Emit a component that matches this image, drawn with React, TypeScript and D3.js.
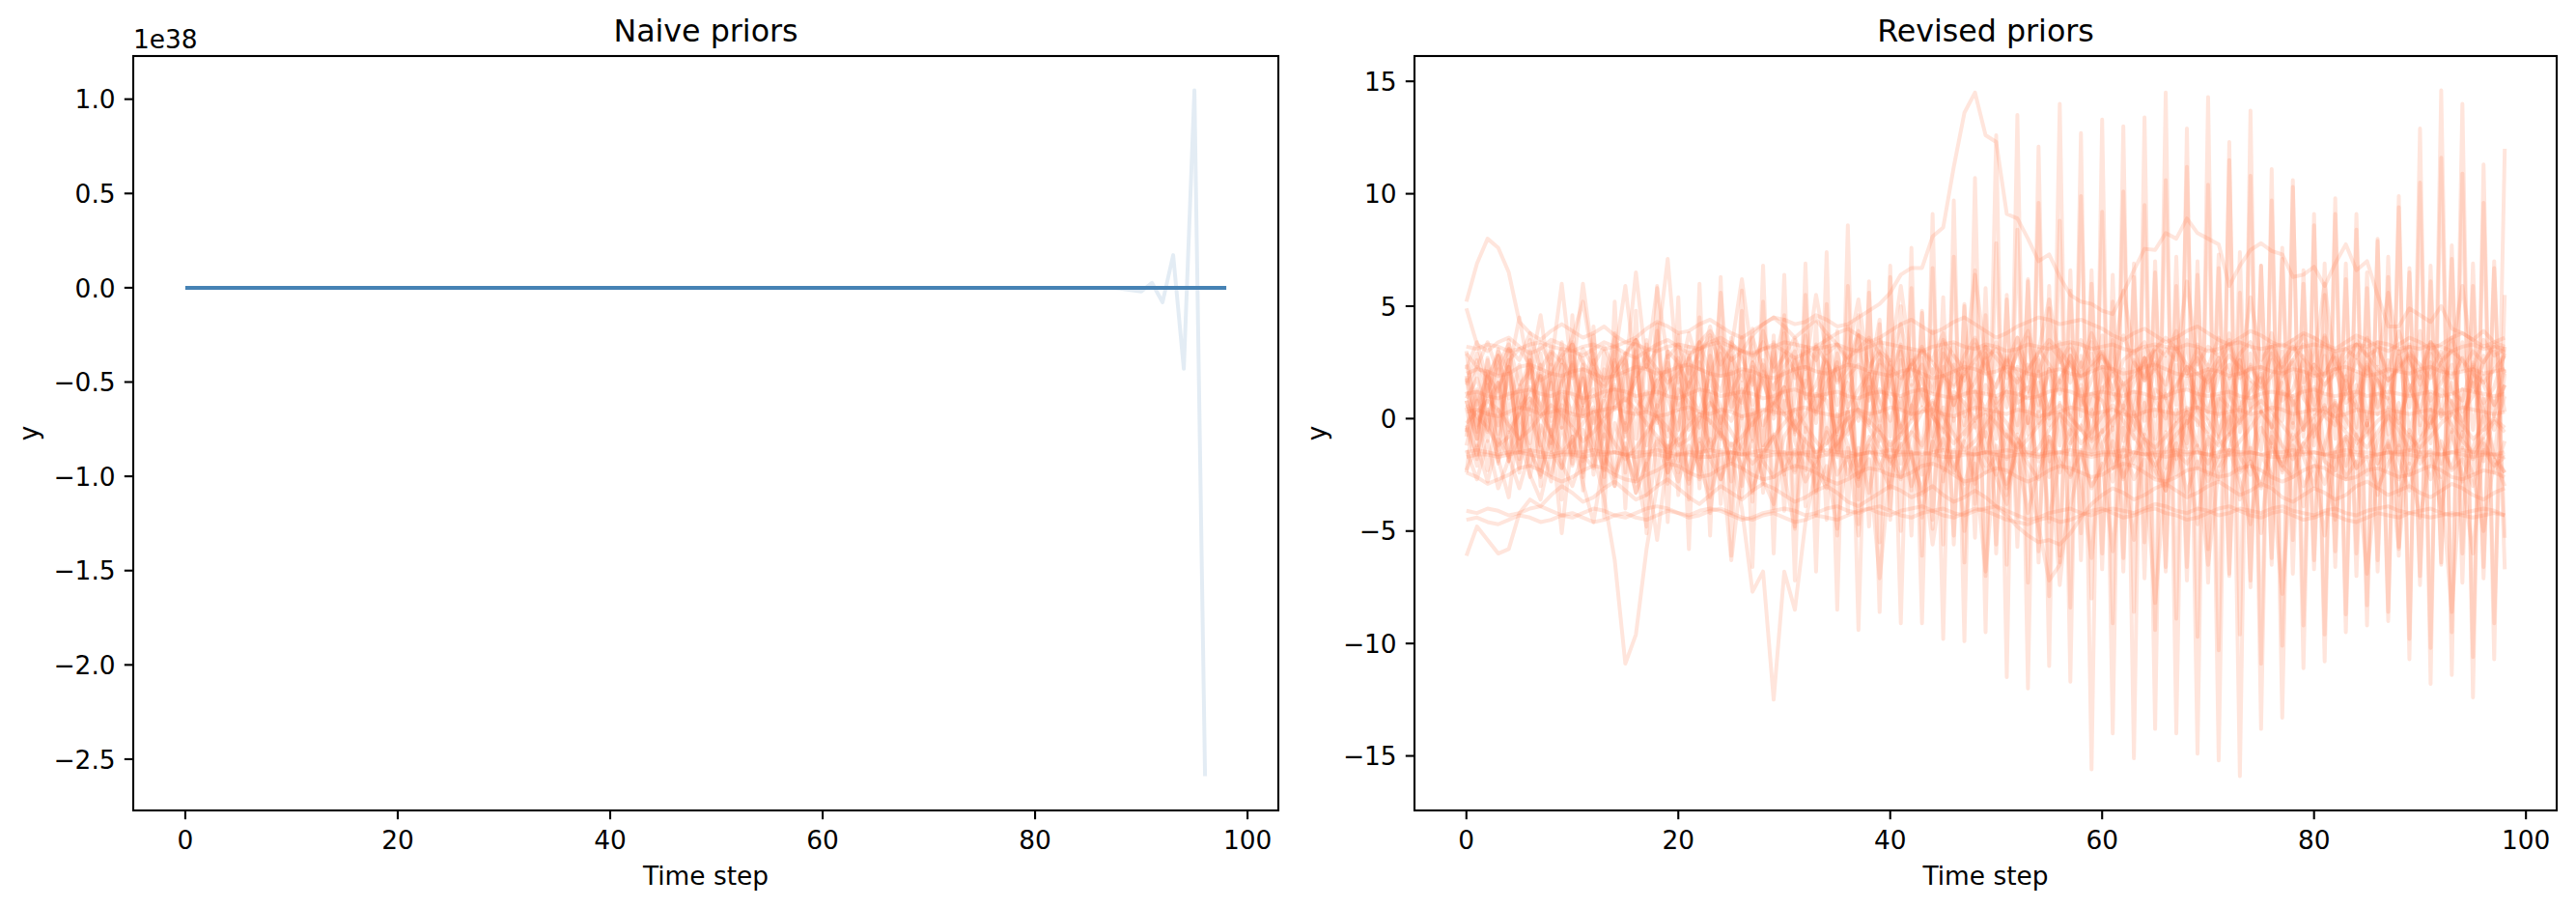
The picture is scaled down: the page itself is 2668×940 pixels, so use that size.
import React from 'react';
import * as d3 from 'd3';

// ---------------- DATA ----------------
const timeSteps = d3.range(99);

// Naive priors (y values; the axis shows them with a 1e38 offset)
const naiveOffset = 1e38;
const naiveFlat = [
  0,0,0,0,0,0,0,0,0,0,
  0,0,0,0,0,0,0,0,0,0,
  0,0,0,0,0,0,0,0,0,0,
  0,0,0,0,0,0,0,0,0,0,
  0,0,0,0,0,0,0,0,0,0,
  0,0,0,0,0,0,0,0,0,0,
  0,0,0,0,0,0,0,0,0,0,
  0,0,0,0,0,0,0,0,0,0,
  0,0,0,0,0,0,0,0,0,0,
  0,0,0,0,0,0,0,0,0,
];
const naiveBurst = [
  0,0,0,0,0,0,0,0,0,0,
  0,0,0,0,0,0,0,0,0,0,
  0,0,0,0,0,0,0,0,0,0,
  0,0,0,0,0,0,0,0,0,0,
  0,0,0,0,0,0,0,0,0,0,
  0,0,0,0,0,0,0,0,0,0,
  0,0,0,0,0,0,0,0,0,0,
  0,0,0,0,0,0,0,0,0,0,
  0,0,0,0,0,0,0,0,-0.004e38,-0.012e38,
  -0.02e38,0.026e38,-0.077e38,0.173e38,-0.43e38,1.047e38,-2.59e38,NaN,NaN,
];

// Revised priors: smooth-ish samples
const l1 = [3.2,3.1,3.3,3.2,3.0,3.1,3.3,3.4,3.2,3.1,3.0,3.2,3.3,3.1,3.2,3.4,3.3,3.1,3.0,3.2,3.3,3.2,3.1,3.3,3.4,3.2,3.0,2.9,3.1,3.2,3.4,3.3,3.2,3.1,3.2,3.3,3.1,3.0,3.2,3.4,3.3,3.2,3.1,3.0,3.2,3.3,3.4,3.2,3.1,3.3,3.2,3.0,3.1,3.3,3.2,3.1,3.3,3.4,3.3,3.1,3.2,3.3,3.1,3.0,3.2,3.3,3.2,3.1,3.3,3.2,3.0,3.1,3.3,3.4,3.2,3.1,3.2,3.3,3.1,3.2,3.3,3.2,3.0,3.1,3.3,3.2,3.4,3.3,3.1,3.2,3.1,3.3,3.2,3.0,3.2,3.3,3.1,3.2,3.1];
const l2 = [-1.5,-1.4,-1.5,-1.6,-1.5,-1.5,-1.4,-1.5,-1.6,-1.5,-1.5,-1.5,-1.4,-1.5,-1.5,-1.6,-1.5,-1.5,-1.4,-1.5,-1.6,-1.5,-1.5,-1.4,-1.5,-1.5,-1.6,-1.5,-1.4,-1.5,-1.5,-1.6,-1.5,-1.5,-1.4,-1.5,-1.5,-1.6,-1.5,-1.5,-1.4,-1.5,-1.5,-1.6,-1.5,-1.4,-1.5,-1.5,-1.6,-1.5,-1.5,-1.4,-1.5,-1.5,-1.6,-1.5,-1.5,-1.4,-1.5,-1.6,-1.5,-1.5,-1.4,-1.5,-1.6,-1.5,-1.5,-1.4,-1.5,-1.5,-1.6,-1.5,-1.4,-1.5,-1.5,-1.6,-1.5,-1.5,-1.4,-1.5,-1.5,-1.6,-1.5,-1.4,-1.5,-1.5,-1.6,-1.5,-1.5,-1.4,-1.5,-1.5,-1.6,-1.5,-1.4,-1.5,-1.5,-1.6,-1.5];
const l3 = [-4.1,-4.2,-4.0,-4.1,-4.3,-4.2,-4.0,-3.9,-4.1,-4.3,-4.4,-4.2,-4.0,-4.1,-4.3,-4.4,-4.2,-4.0,-3.9,-4.0,-4.2,-4.3,-4.1,-4.0,-4.1,-4.3,-4.5,-4.4,-4.2,-4.1,-4.0,-4.1,-4.3,-4.2,-4.0,-3.9,-4.1,-4.2,-4.0,-3.9,-4.1,-4.3,-4.4,-4.2,-4.1,-4.0,-4.2,-4.3,-4.1,-4.0,-3.9,-4.1,-4.3,-4.5,-4.4,-4.2,-4.1,-4.0,-4.2,-4.3,-4.1,-4.0,-4.1,-4.2,-4.0,-3.8,-3.9,-4.1,-4.2,-4.0,-4.1,-4.3,-4.2,-4.0,-4.1,-4.2,-4.0,-3.9,-4.1,-4.2,-4.3,-4.1,-4.0,-4.2,-4.3,-4.1,-4.0,-3.9,-4.1,-4.2,-4.1,-4.0,-4.2,-4.3,-4.2,-4.1,-4.0,-4.1,-4.3];
const l4 = [-4.5,-4.4,-4.6,-4.7,-4.5,-4.3,-4.4,-4.6,-4.5,-4.3,-4.2,-4.4,-4.6,-4.5,-4.3,-4.2,-4.4,-4.5,-4.3,-4.1,-4.2,-4.4,-4.3,-4.1,-4.0,-4.2,-4.4,-4.5,-4.3,-4.2,-4.4,-4.6,-4.5,-4.3,-4.4,-4.5,-4.3,-4.1,-4.0,-4.2,-4.3,-4.1,-4.0,-3.9,-4.1,-4.3,-4.4,-4.2,-4.0,-4.1,-4.3,-4.5,-4.6,-4.7,-4.5,-4.4,-4.6,-4.5,-4.3,-4.1,-4.0,-4.2,-4.4,-4.3,-4.1,-4.0,-4.2,-4.3,-4.5,-4.4,-4.2,-4.0,-3.9,-4.1,-4.3,-4.4,-4.2,-4.1,-4.3,-4.5,-4.4,-4.2,-4.3,-4.5,-4.6,-4.4,-4.2,-4.3,-4.4,-4.2,-4.3,-4.4,-4.3,-4.2,-4.3,-4.4,-4.3,-4.2,-4.3];
const l5 = [2.0,2.2,2.1,1.9,2.0,2.3,2.4,2.2,2.0,1.9,2.1,2.2,2.0,1.8,1.9,2.1,2.3,2.2,2.0,2.1,2.3,2.4,2.2,2.0,1.9,2.0,2.2,2.1,1.9,1.8,2.0,2.2,2.3,2.1,2.0,2.2,2.4,2.3,2.1,2.0,1.9,2.1,2.2,2.0,1.8,1.9,2.1,2.3,2.2,2.0,2.1,2.3,2.2,2.0,1.9,2.1,2.2,2.0,1.9,2.1,2.3,2.2,2.0,2.1,2.3,2.4,2.2,2.0,1.9,2.0,2.2,2.1,1.9,2.0,2.2,2.3,2.1,2.0,2.2,2.1,1.9,2.0,2.2,2.3,2.1,1.9,2.0,2.2,2.1,2.0,2.2,2.3,2.1,2.0,2.1,2.2,2.0,2.1,2.2];
const l6 = [0.3,0.4,0.2,0.1,0.3,0.5,0.4,0.2,0.3,0.4,0.2,0.1,0.3,0.4,0.5,0.3,0.2,0.3,0.1,0.2,0.4,0.5,0.3,0.2,0.4,0.3,0.1,0.2,0.4,0.3,0.2,0.4,0.5,0.3,0.2,0.1,0.3,0.4,0.2,0.3,0.5,0.4,0.2,0.3,0.4,0.2,0.1,0.3,0.5,0.4,0.3,0.2,0.4,0.3,0.1,0.2,0.3,0.5,0.4,0.2,0.3,0.4,0.2,0.1,0.3,0.4,0.3,0.2,0.4,0.5,0.3,0.2,0.3,0.4,0.2,0.3,0.5,0.4,0.2,0.3,0.4,0.3,0.1,0.2,0.4,0.3,0.2,0.4,0.3,0.2,0.3,0.4,0.2,0.3,0.5,0.4,0.3,0.2,0.3];
const l7 = [1.1,1.2,1.0,0.9,1.1,1.2,1.3,1.1,1.0,1.2,1.1,0.9,1.0,1.2,1.3,1.2,1.0,1.1,1.2,1.0,0.9,1.1,1.3,1.2,1.0,1.1,1.2,1.1,0.9,1.0,1.2,1.3,1.1,1.0,1.1,1.2,1.0,0.9,1.1,1.2,1.1,1.0,1.2,1.3,1.1,1.0,0.9,1.1,1.2,1.1,1.0,1.2,1.1,0.9,1.0,1.2,1.3,1.2,1.0,1.1,1.2,1.1,1.0,1.2,1.1,0.9,1.0,1.2,1.3,1.1,1.0,1.1,1.2,1.0,0.9,1.1,1.2,1.1,1.0,1.2,1.3,1.1,1.0,1.1,1.2,1.0,1.1,1.2,1.1,1.0,1.1,1.2,1.0,1.1,1.3,1.2,1.1,1.0,1.1];
const l8 = [-2.4,-2.6,-2.9,-2.7,-2.5,-2.2,-2.1,-2.3,-2.6,-2.8,-2.6,-2.3,-2.1,-2.2,-2.5,-2.7,-2.8,-2.5,-2.3,-2.0,-2.1,-2.4,-2.6,-2.5,-2.2,-2.0,-2.2,-2.5,-2.7,-2.6,-2.3,-2.1,-2.2,-2.4,-2.7,-2.9,-2.7,-2.4,-2.2,-2.3,-2.5,-2.6,-2.4,-2.1,-2.0,-2.2,-2.5,-2.8,-2.7,-2.4,-2.2,-2.3,-2.6,-2.8,-2.6,-2.3,-2.1,-2.2,-2.4,-2.6,-2.5,-2.2,-2.0,-2.1,-2.4,-2.7,-2.8,-2.6,-2.3,-2.2,-2.4,-2.6,-2.5,-2.2,-2.1,-2.3,-2.6,-2.8,-2.6,-2.3,-2.1,-2.2,-2.5,-2.7,-2.6,-2.3,-2.2,-2.4,-2.6,-2.5,-2.3,-2.1,-2.3,-2.6,-2.7,-2.5,-2.3,-2.4,-2.6];
const l9 = [-1.7,-1.6,-1.6,-1.7,-1.6,-1.5,-1.6,-1.7,-1.7,-1.6,-1.6,-1.7,-1.6,-1.6,-1.5,-1.6,-1.7,-1.6,-1.6,-1.7,-1.6,-1.6,-1.7,-1.7,-1.6,-1.5,-1.6,-1.6,-1.7,-1.6,-1.6,-1.5,-1.6,-1.7,-1.6,-1.6,-1.7,-1.6,-1.5,-1.6,-1.7,-1.6,-1.6,-1.5,-1.6,-1.7,-1.7,-1.6,-1.6,-1.5,-1.6,-1.7,-1.6,-1.6,-1.7,-1.6,-1.5,-1.6,-1.6,-1.7,-1.6,-1.6,-1.7,-1.5,-1.6,-1.6,-1.7,-1.6,-1.6,-1.5,-1.6,-1.7,-1.6,-1.6,-1.5,-1.6,-1.7,-1.7,-1.6,-1.6,-1.5,-1.6,-1.7,-1.6,-1.6,-1.7,-1.6,-1.5,-1.6,-1.6,-1.7,-1.6,-1.6,-1.5,-1.6,-1.7,-1.6,-1.6,-1.7];

// Wandering samples
const w1 = [5.2,6.9,8.0,7.6,6.5,4.3,3.8,3.5,3.9,4.2,3.9,3.6,3.8,4.1,3.7,3.4,3.6,4.0,4.3,4.1,3.8,3.9,4.2,4.4,4.1,3.8,3.6,3.9,4.2,4.5,4.4,4.2,4.3,4.6,4.4,4.1,4.2,4.5,4.8,5.1,5.6,6.4,6.7,6.7,8.1,8.5,11.2,13.6,14.5,12.6,12.3,9.1,8.9,8.0,7.0,7.3,6.3,5.5,5.2,5.1,4.8,4.65,5.6,6.6,7.55,7.5,8.25,8.0,8.9,8.25,8.0,7.75,5.9,6.8,7.5,7.8,7.45,7.3,6.3,6.4,6.75,5.9,6.9,7.75,6.6,7.0,5.5,4.1,4.1,4.9,4.6,4.3,5.0,4.0,3.8,3.5,3.9,3.4,3.2];
const w2 = [4.9,3.3,3.0,3.4,3.6,3.2,2.9,3.1,3.5,3.3,3.0,2.8,3.1,3.4,3.2,2.9,2.7,3.0,3.3,3.5,3.2,2.9,3.1,3.4,3.6,3.3,3.0,2.8,3.1,3.3,3.0,2.7,2.9,3.2,3.5,3.8,4.0,3.7,3.4,3.6,3.9,4.2,4.4,4.1,3.8,4.0,4.3,4.5,4.2,3.9,3.6,3.8,4.1,4.3,4.5,4.4,4.2,4.3,4.4,4.2,4.0,3.7,3.5,3.8,4.0,3.7,3.4,3.6,3.9,4.1,3.8,3.5,3.3,3.6,3.9,3.7,3.4,3.2,3.5,3.8,3.6,3.3,3.1,3.4,3.7,3.5,3.2,3.0,3.3,3.6,3.4,3.1,3.3,3.6,3.8,3.5,3.2,3.4,3.6];
const w3 = [-6.1,-4.8,-5.4,-6.0,-5.8,-4.2,-3.6,-3.9,-3.4,-3.0,-3.3,-3.7,-3.5,-3.1,-2.8,-3.2,-3.6,-3.4,-3.0,-2.7,-3.1,-3.5,-3.8,-3.4,-3.0,-3.3,-3.6,-3.2,-2.9,-3.1,-3.4,-3.7,-3.5,-3.2,-3.0,-3.3,-3.7,-3.9,-3.6,-3.3,-3.0,-3.2,-3.5,-3.3,-3.0,-3.4,-3.7,-3.5,-3.2,-3.5,-3.9,-4.3,-4.8,-5.2,-5.5,-5.4,-5.6,-5.1,-4.4,-3.8,-3.4,-3.1,-3.3,-3.6,-3.4,-3.1,-2.9,-3.2,-3.5,-3.3,-3.0,-2.8,-3.1,-3.4,-3.2,-2.9,-3.1,-3.5,-3.7,-3.4,-3.1,-3.3,-3.6,-3.4,-3.0,-2.8,-3.1,-3.4,-3.2,-3.0,-3.3,-3.5,-3.2,-2.9,-3.1,-3.4,-3.6,-3.3,-3.1];

// Oscillating (spiky) samples
const s1 = [1.8,-1.2,2.6,-2.0,3.1,-2.4,3.5,-3.0,2.9,-3.6,4.6,-3.2,4.1,-4.4,5.2,-4.0,4.8,-5.1,5.9,-4.6,5.4,-5.8,6.0,-5.2,6.3,-6.1,5.7,-6.6,6.8,-6.0,6.4,-7.2,6.9,-6.8,7.4,-8.5,8.6,-9.4,6.1,-8.6,6.8,-9.1,7.6,-9.1,9.1,-9.8,9.7,-9.9,10.7,-9.5,12.6,-11.5,13.5,-12.0,12.1,-11.0,14.0,-11.7,12.7,-15.6,13.3,-14.0,13.0,-15.1,13.4,-13.8,14.5,-14.0,12.9,-14.9,14.3,-15.2,12.3,-15.9,13.7,-13.8,11.1,-13.3,10.6,-11.1,9.1,-10.8,9.1,-9.5,8.4,-9.2,7.9,-8.6,9.9,-10.7,12.9,-11.8,14.6,-11.4,14.0,-12.4,11.3,-10.7,12.0];
const s2 = [0.8,-0.9,2.1,-1.4,2.6,-1.8,3.0,-1.2,2.4,-2.2,3.3,-2.6,2.9,-3.0,3.8,-2.4,3.5,-3.4,4.2,-2.9,3.7,-3.6,4.5,-3.1,4.0,-4.2,4.8,-3.7,5.2,-4.0,4.6,-4.8,5.5,-4.3,5.1,-5.2,5.9,-4.7,5.6,-5.5,6.3,-5.0,5.8,-6.1,6.7,-5.6,7.2,-6.4,6.6,-7.0,7.8,-6.5,8.4,-7.3,9.6,-7.9,8.8,-8.4,9.9,-8.0,9.2,-9.1,10.1,-8.6,9.5,-9.4,10.6,-8.9,11.2,-9.7,10.4,-10.3,11.5,-9.6,10.8,-10.9,9.7,-10.1,10.3,-9.2,8.6,-9.6,9.8,-8.7,9.1,-8.3,8.0,-9.0,9.4,-9.8,10.5,-10.2,11.6,-9.5,10.9,-10.6,9.6,-9.1,5.5];
const s3 = [-0.6,1.2,-1.0,1.6,-1.7,1.3,-2.1,1.9,-1.5,2.4,-2.0,2.7,-2.5,2.2,-3.0,2.9,-2.6,3.3,-2.9,3.0,-3.4,2.8,-3.1,3.6,-3.8,3.2,-3.5,4.0,-3.3,3.7,-4.1,3.5,-3.9,4.3,-4.5,3.9,-4.2,4.6,-4.8,4.2,-4.5,5.0,-5.2,4.7,-4.9,5.4,-5.6,5.1,-5.3,5.8,-6.0,5.5,-5.7,6.2,-6.4,5.9,-6.1,6.6,-6.3,6.0,-6.7,6.4,-6.2,6.9,-7.1,6.5,-6.8,7.2,-6.6,7.0,-7.3,6.7,-7.0,7.4,-7.2,6.8,-6.5,7.1,-6.9,6.6,-6.3,6.9,-6.6,6.2,-6.0,6.5,-6.8,6.3,-6.1,6.7,-7.0,6.8,-6.4,7.1,-7.3,6.9,-6.6,7.0,-6.7];
const d1 = [-1.2,0.8,-2.3,0.4,-1.9,1.1,-2.6,-0.3,-1.4,0.6,-2.1,-0.5,-1.6,-3.5,-6.3,-10.9,-9.6,-5.8,-3.0,-1.2,-2.4,0.3,-1.8,-0.9,-2.7,-1.5,-4.0,-7.7,-6.8,-12.5,-6.8,-8.5,-4.6,-2.2,-3.1,-0.8,-2.5,-1.3,-3.3,-0.6,-2.0,0.9,-1.7,-3.2,-1.1,0.5,-2.4,-1.0,-2.9,0.2,-1.5,-3.4,-0.7,-2.6,-4.8,-7.2,-6.5,-3.9,-1.8,0.4,-1.3,-2.8,-0.4,-2.0,0.7,-1.6,-3.0,-1.1,0.3,-2.2,-0.9,-2.7,-1.4,0.5,-1.9,-3.1,-0.8,-2.3,-0.2,-1.7,-3.0,-1.2,0.6,-2.1,-0.7,-2.5,-1.0,0.2,-1.8,-3.2,-1.1,0.4,-2.0,-0.6,-2.8,-1.3,0.1,-1.6,-2.4];

// Core noisy samples
const c1 = [2.4,0.6,1.9,2.8,0.9,1.3,2.6,0.4,1.8,3.1,1.0,0.2,2.2,1.5,3.0,0.8,1.7,2.9,0.5,1.4,2.7,1.1,0.3,2.0,3.2,1.2,0.7,2.5,1.6,0.4,2.3,3.0,0.9,1.5,2.8,0.6,1.9,2.4,0.8,2.9,1.3,0.5,2.6,1.8,0.2,2.1,3.3,1.0,1.6,2.7,0.7,1.4,3.1,1.9,0.3,2.2,1.1,2.8,0.6,1.7,2.9,1.2,0.4,2.5,1.8,3.0,0.9,1.5,2.3,0.5,1.9,2.7,1.0,0.3,2.4,1.6,3.2,0.8,1.3,2.6,0.6,2.0,2.9,1.1,0.5,2.3,1.7,0.9,2.8,1.4,0.4,2.1,3.0,1.2,0.8,2.5,1.5,0.6,2.2];
const c2 = [0.5,-1.8,1.9,-0.7,2.3,-1.5,0.9,-2.2,1.6,-0.4,2.5,-1.9,0.3,-2.6,1.4,-0.8,2.7,-1.2,0.6,-2.4,1.8,-0.5,2.2,-1.7,0.1,-2.8,1.3,-0.9,2.4,-1.4,0.8,-2.3,1.7,-0.2,2.6,-1.6,0.4,-2.7,1.9,-1.0,2.1,-0.6,1.5,-2.5,0.7,-1.3,2.8,-0.3,1.2,-2.1,0.9,-1.8,2.3,-0.7,1.6,-2.6,0.2,-1.1,2.5,-1.5,1.4,-2.2,0.6,-0.9,2.7,-1.7,1.1,-2.5,0.5,-1.2,2.2,-0.8,1.8,-2.3,0.3,-1.4,2.6,-1.9,1.0,-0.5,2.4,-1.6,0.8,-2.7,1.5,-0.3,2.1,-1.3,0.7,-2.0,1.9,-1.1,2.5,-0.6,1.3,-2.4,0.9,-1.7,2.0];
const c3 = [-0.3,-1.6,0.4,-1.9,-0.6,-2.2,0.1,-1.2,-2.5,-0.4,-1.7,0.5,-1.0,-2.3,-0.2,-1.5,-2.8,-0.7,0.3,-1.8,-0.9,-2.4,0.2,-1.3,-0.5,-2.0,-1.1,0.4,-1.9,-2.6,-0.8,-0.1,-1.6,-2.2,-0.4,-1.4,0.3,-2.1,-1.0,-0.3,-1.8,-2.7,-0.6,-1.2,0.2,-1.5,-2.3,-0.9,-0.2,-1.7,-2.5,-0.7,-1.3,0.1,-1.9,-0.8,-2.4,-1.1,-0.3,-1.6,-0.5,-2.2,-1.4,0.3,-1.0,-2.6,-0.6,-1.8,-0.1,-1.3,-2.0,-0.9,0.2,-1.7,-2.5,-0.4,-1.2,-2.1,-0.7,-1.5,0.0,-1.9,-2.3,-0.8,-1.4,-0.2,-2.0,-1.1,-2.7,-0.5,-1.6,0.1,-1.3,-2.2,-0.6,-1.8,-0.9,-2.4,-1.0];
const c4 = [1.6,2.9,1.2,2.4,3.3,1.5,2.1,4.6,1.3,2.6,1.8,3.1,2.3,1.0,2.7,5.9,1.9,2.4,1.1,3.0,2.5,1.4,3.4,2.0,1.2,2.8,1.7,3.6,2.2,1.3,2.9,2.1,1.4,3.2,2.5,1.6,2.3,3.7,1.1,2.6,2.0,3.3,1.5,2.4,1.2,2.9,2.2,1.7,3.5,2.1,1.4,2.7,2.0,1.2,3.1,2.4,1.6,2.8,1.9,3.4,2.3,1.3,2.6,3.0,1.7,2.2,1.5,3.2,2.0,2.7,1.2,2.5,3.3,1.8,2.3,1.4,2.9,2.1,3.5,1.6,2.4,1.9,3.0,1.3,2.6,2.0,3.4,1.7,2.2,2.8,1.5,3.1,2.3,1.8,2.7,1.4,2.5,3.2,2.0];
const c5 = [-2.3,-1.2,-2.8,-0.9,-1.7,-3.1,-1.4,-2.5,-0.8,-2.0,-3.0,-1.6,-2.2,-0.7,-2.6,-1.3,-3.3,-1.9,-1.0,-2.4,-1.5,-2.9,-0.9,-1.8,-2.7,-1.1,-2.1,-3.2,-1.6,-0.8,-2.3,-1.4,-2.8,-1.9,-0.6,-2.5,-1.7,-3.0,-1.2,-2.2,-1.0,-2.6,-1.5,-3.4,-1.8,-0.9,-2.1,-2.9,-1.3,-2.4,-1.6,-3.1,-1.1,-2.0,-2.7,-0.8,-1.9,-2.5,-1.4,-3.0,-2.2,-1.0,-2.6,-1.7,-0.9,-2.3,-3.2,-1.5,-2.0,-1.2,-2.8,-1.6,-0.7,-2.4,-1.9,-3.0,-1.3,-2.1,-2.6,-1.1,-1.8,-2.9,-1.4,-0.8,-2.2,-1.7,-3.1,-2.0,-1.2,-2.5,-1.5,-2.7,-1.0,-2.3,-1.8,-3.0,-1.4,-2.1,-1.7];
const c6 = [1.9,-0.4,1.2,2.8,-0.6,1.5,0.2,2.4,-0.8,1.7,3.4,0.1,1.0,-0.9,2.6,0.5,1.8,-0.3,2.2,0.9,-0.5,2.7,1.3,-0.2,5.6,0.4,1.6,-1.0,2.1,0.7,1.4,-0.6,3.0,0.3,1.1,2.5,-0.7,0.8,2.0,-0.1,1.7,3.2,0.0,1.3,-0.8,2.3,0.6,1.9,-0.4,2.9,0.5,1.2,-0.6,2.4,1.0,-0.3,3.1,0.2,1.5,-0.9,2.2,0.8,1.6,-0.5,2.7,0.1,1.3,3.5,-0.2,1.0,2.1,-0.7,0.9,2.6,0.4,1.8,-0.4,2.3,0.6,1.4,-0.8,2.8,0.3,1.1,2.0,-0.3,1.7,0.5,3.0,-0.6,1.2,2.5,0.0,1.6,-0.5,2.2,0.7,1.4,2.9];
const c7 = [-0.8,2.6,-0.5,3.1,0.2,2.4,-1.1,2.9,0.1,3.4,-0.7,2.2,-1.3,3.0,0.4,2.7,-0.9,3.5,-0.2,2.5,0.6,3.2,-1.0,2.8,-0.4,3.6,0.0,2.3,-1.2,3.1,0.3,2.6,-0.6,3.3,-1.1,2.9,0.5,3.7,-0.3,2.4,-0.8,3.0,0.2,2.7,-1.4,3.4,-0.1,2.5,0.4,3.2,-0.9,2.8,-0.3,3.6,0.6,2.2,-1.2,3.1,0.1,2.9,-0.6,3.5,-1.0,2.6,0.3,3.0,-0.5,2.4,-1.3,3.3,0.0,2.7,-0.7,3.4,0.5,2.3,-1.1,3.0,-0.2,2.8,0.4,3.6,-0.9,2.5,-0.4,3.1,0.2,2.6,-1.2,3.3,-0.3,2.9,0.1,3.5,-0.8,2.4,-0.5,3.0,0.3];
const c8 = [0.6,0.1,-0.4,-1.2,-0.8,0.3,0.9,0.2,-0.7,-1.5,-1.0,-0.2,0.5,-0.3,-1.1,-1.8,-1.3,-0.6,0.1,-0.4,-1.2,-0.9,0.0,0.7,0.2,-0.6,-1.4,-2.0,-1.5,-0.8,-0.2,0.4,-0.3,-1.0,-1.6,-1.1,-0.5,0.2,-0.4,-1.3,-1.9,-1.2,-0.6,0.3,0.8,0.1,-0.7,-1.4,-1.0,-0.3,0.4,-0.2,-0.9,-1.7,-1.3,-0.5,0.2,-0.3,-1.1,-0.6,0.1,0.6,-0.1,-0.8,-1.5,-2.1,-1.4,-0.7,-0.2,0.5,-0.1,-0.9,-1.6,-1.0,-0.4,0.3,-0.3,-1.2,-1.8,-1.1,-0.5,0.2,0.7,0.0,-0.8,-1.3,-0.6,0.1,-0.5,-1.4,-0.9,-0.2,0.4,-0.3,-1.0,-1.5,-0.8,-0.1,-0.6];
const c9 = [2.2,3.4,1.6,3.0,2.1,4.5,1.8,3.3,2.4,6.0,1.9,6.0,2.5,1.7,3.6,2.0,6.5,2.3,3.1,7.1,1.6,3.8,2.2,4.1,1.9,3.4,2.7,1.5,3.9,2.3,4.4,1.8,3.2,2.6,3.7,1.7,2.9,5.3,2.0,3.5,2.4,4.2,1.9,3.1,2.6,3.8,1.5,2.8,3.6,2.2,3.4,1.8,2.9,3.9,2.1,3.3,2.7,1.6,3.5,2.4,3.0,1.9,3.7,2.5,1.7,3.2,2.8,3.9,2.0,3.1,2.3,3.6,1.8,2.9,3.4,2.2,3.8,1.9,2.6,3.3,2.0,3.7,2.4,1.7,3.5,2.8,3.1,2.1,3.9,2.5,1.8,3.4,2.7,3.6,2.2,3.0,2.5,3.3,2.9];
const c10 = [-0.4,-2.1,0.3,-1.8,-3.5,0.2,-1.4,-2.6,-0.5,-5.1,-0.8,-2.4,0.4,-1.6,-3.0,-0.2,-2.2,-4.8,-0.9,-1.5,0.3,-2.7,-1.1,-4.2,-0.6,-1.9,0.1,-3.3,-1.3,-0.7,-2.5,-4.9,-0.4,-1.7,-2.9,0.2,-1.2,-5.2,-0.8,-2.0,-3.1,-0.3,-1.6,-4.4,-1.0,-2.3,0.0,-5.0,-1.4,-0.6,-2.6,-3.8,-0.9,-1.5,0.3,-4.6,-1.8,-0.5,-2.8,-6.2,-1.1,-0.4,-2.3,-5.4,-0.7,-1.9,-3.2,-0.2,-1.5,-4.7,-0.8,-2.1,0.1,-3.6,-1.3,-5.1,-0.6,-2.4,-1.0,-3.9,-0.3,-1.7,-4.5,-0.9,-2.2,-0.1,-3.4,-1.2,-5.8,-0.7,-2.0,-1.4,-4.1,-0.5,-2.6,-6.0,-1.1,-1.8,-3.0];
const c11 = [1.2,-0.3,0.8,1.6,-0.5,0.2,1.4,0.6,-0.7,1.1,0.3,1.8,-0.2,0.9,1.5,-0.6,0.4,1.2,0.0,-0.8,1.3,0.7,-0.4,1.7,0.5,-0.1,1.0,1.9,-0.3,0.6,1.4,-0.5,0.2,1.1,0.8,-0.7,1.6,0.3,-0.2,1.3,0.9,-0.4,0.5,1.8,0.1,-0.6,1.2,0.7,-0.1,1.5,0.4,-0.8,1.0,1.4,-0.2,0.6,1.7,0.0,-0.5,1.1,0.8,-0.3,1.5,0.2,-0.7,1.3,0.9,-0.1,1.8,0.4,-0.6,1.0,0.5,-0.2,1.6,0.3,-0.4,1.2,0.8,-0.5,1.4,0.1,-0.3,1.7,0.6,-0.6,1.1,0.9,-0.2,1.5,0.2,-0.4,1.3,0.7,-0.1,1.6,0.4,-0.5,1.0];
const c12 = [1.5,2.3,1.9,1.2,2.6,3.1,2.4,1.7,2.0,2.8,3.3,2.5,1.8,1.4,2.1,2.9,3.5,2.8,2.2,1.6,2.0,2.7,3.4,3.9,3.2,2.6,3.0,3.7,4.2,4.5,4.1,3.6,4.0,4.4,3.8,3.3,2.7,3.1,3.6,2.9,2.3,1.8,2.4,3.0,2.5,1.9,1.4,2.0,2.6,3.2,2.7,2.1,1.6,2.2,2.9,3.5,3.0,2.4,1.8,2.3,2.8,2.2,1.5,1.9,2.5,3.1,3.6,3.1,2.4,2.0,1.6,2.2,2.8,2.3,1.7,1.3,1.9,2.6,3.2,2.7,2.1,1.5,2.0,2.7,3.3,2.8,2.2,1.7,2.3,2.9,2.4,1.8,2.5,3.0,2.6,2.0,1.6,2.2,2.8];
const c13 = [-2.4,1.3,-0.6,2.2,-1.9,0.4,2.6,-1.2,-2.8,1.0,-0.3,2.4,-2.1,0.8,-1.5,2.0,-2.7,0.5,1.7,-1.8,-0.4,2.3,-2.5,1.1,-0.9,2.7,-1.6,0.2,-2.9,1.5,2.1,-1.0,-2.3,0.9,2.5,-1.7,0.3,-2.6,1.4,-0.5,2.6,-2.0,0.6,-1.3,2.2,-2.8,1.0,-0.7,2.4,-1.5,0.1,-2.4,1.8,-0.2,2.7,-1.9,0.7,-2.6,1.3,-0.8,2.3,-1.4,-2.7,1.2,-0.1,2.5,-2.2,0.4,-1.1,2.0,-2.5,0.9,-0.6,2.6,-1.8,0.3,-2.9,1.6,-0.4,2.1,-1.2,0.6,-2.3,1.9,-0.9,2.4,-2.0,0.5,-1.6,2.7,-0.7,1.1,-2.6,0.8,-1.3,2.3,-1.9,0.2,1.5];
const c14 = [0.9,1.8,0.2,1.4,2.3,0.5,1.1,2.0,-0.1,1.6,2.4,0.7,1.3,0.1,1.9,2.6,0.8,0.3,1.7,2.2,0.4,1.5,2.5,0.9,-0.2,1.2,2.1,0.6,1.8,0.0,1.4,2.7,1.0,0.2,1.6,2.3,0.5,1.3,2.0,0.8,-0.1,1.7,2.4,1.1,0.3,1.9,0.6,2.2,1.2,0.4,1.5,2.6,0.7,1.0,2.1,0.2,1.8,2.5,0.9,0.1,1.3,2.0,0.5,1.6,2.7,0.8,0.0,1.4,2.3,1.1,0.3,1.9,2.4,0.6,1.2,2.0,0.4,1.7,2.6,0.9,0.2,1.5,2.2,0.7,1.1,2.5,0.5,1.8,0.0,1.3,2.1,0.8,1.6,2.4,0.3,1.0,1.9,0.6,1.5];
const c15 = [-1.4,-2.7,-1.0,-3.1,-1.8,-0.9,-2.5,-3.6,-1.5,-2.2,-0.8,-2.9,-4.6,-1.7,-2.4,-1.1,-3.3,-2.0,-5.4,-1.6,-2.8,-1.2,-2.1,-3.5,-1.4,-6.3,-2.3,-1.0,-2.7,-3.8,-1.5,-2.4,-0.9,-3.2,-2.1,-4.9,-1.3,-2.6,-1.8,-7.1,-2.2,-1.1,-3.0,-1.7,-5.6,-2.5,-1.4,-3.4,-2.0,-6.8,-1.2,-2.9,-1.6,-4.2,-2.3,-1.0,-7.4,-2.6,-1.5,-3.1,-2.0,-5.9,-1.3,-2.7,-1.8,-8.2,-2.4,-1.1,-3.3,-1.9,-6.5,-2.2,-1.4,-2.8,-4.7,-1.6,-2.5,-7.8,-1.2,-3.0,-2.1,-5.2,-1.5,-2.6,-1.9,-6.9,-2.3,-1.0,-3.4,-2.0,-4.4,-1.7,-2.8,-8.6,-1.3,-2.5,-5.0,-1.8,-2.4];
const c16 = [3.0,-0.6,2.7,0.3,3.5,-0.9,2.2,0.1,3.3,-0.4,2.8,0.6,3.7,-0.8,2.5,-0.2,3.1,0.4,3.9,-0.5,2.4,0.0,3.4,-1.0,2.9,0.5,3.6,-0.3,2.6,0.2,3.8,-0.7,2.3,0.4,3.2,-0.6,2.7,-0.1,3.5,0.3,2.5,-0.9,3.0,0.6,3.9,-0.4,2.4,0.1,3.3,-0.8,2.9,0.5,3.6,-0.2,2.6,0.0,3.4,-0.7,2.8,0.4,3.7,-0.5,2.2,0.2,3.1,-0.9,2.7,0.6,3.5,-0.3,2.4,0.1,3.8,-0.6,2.9,0.3,3.2,-0.1,2.5,-0.8,3.6,0.4,2.7,-0.4,3.3,0.0,2.3,-0.7,3.0,0.5,3.9,-0.2,2.6,0.2,3.4,-0.5,2.8,0.1,3.2];
const c17 = [-0.2,0.3,0.8,0.4,-0.3,-0.9,-0.5,0.1,0.6,0.2,-0.4,-1.0,-0.6,0.0,0.5,0.9,0.4,-0.2,-0.8,-1.3,-0.9,-0.3,0.2,-0.1,-0.7,-1.2,-0.8,-0.2,0.3,0.7,0.2,-0.4,-1.0,-1.5,-1.1,-0.5,0.0,0.4,-0.1,-0.6,-1.2,-0.7,-0.1,0.5,0.1,-0.5,-1.1,-0.6,0.0,0.3,-0.2,-0.8,-1.4,-0.9,-0.3,0.2,0.6,0.1,-0.5,-1.0,-0.6,0.0,0.4,-0.2,-0.9,-1.3,-0.8,-0.2,0.3,-0.1,-0.7,-1.2,-0.7,-0.1,0.4,0.8,0.3,-0.3,-0.9,-0.4,0.1,0.5,0.0,-0.6,-1.1,-0.7,-0.1,0.3,-0.2,-0.8,-1.3,-0.8,-0.2,0.2,-0.3,-0.9,-0.5,0.0,-0.4];
const c18 = [2.9,2.3,3.4,2.0,3.1,2.6,3.8,2.2,3.0,2.5,3.6,5.2,2.4,3.2,2.1,2.8,3.5,2.3,5.8,2.7,3.3,2.0,2.9,3.7,2.4,3.1,6.2,2.6,3.4,2.1,2.8,3.6,2.2,5.5,2.9,3.3,2.5,3.9,2.3,3.0,2.6,5.9,2.4,3.2,2.0,3.5,2.8,2.2,6.4,2.7,3.1,2.4,3.6,2.1,3.0,5.3,2.5,3.3,2.3,3.8,2.7,2.1,5.7,2.9,3.4,2.2,3.1,2.6,6.1,2.4,3.2,2.8,3.5,2.0,5.4,2.6,3.3,2.3,3.0,3.7,2.5,6.0,2.2,3.1,2.7,3.6,2.4,5.6,2.9,3.2,2.1,3.4,2.6,3.0,5.9,2.3,3.5,2.8,3.1];
const c19 = [0.8,-0.9,1.5,-0.3,2.0,-1.4,0.6,1.9,-1.1,2.4,-1.6,0.9,2.6,-2.0,1.3,-0.5,3.0,-2.3,0.7,2.8,-1.9,1.6,-2.7,3.2,-0.8,2.1,-3.0,2.5,-1.2,3.4,-2.5,1.0,3.7,-3.3,2.2,-1.5,4.1,-3.6,1.8,4.4,-4.0,2.6,-3.2,4.8,-4.5,3.1,-5.2,5.0,-3.8,4.6,-5.6,5.3,-4.4,6.1,-5.9,4.9,-6.4,5.7,-5.1,6.6,-6.0,5.2,-6.8,6.3,-5.5,7.0,-6.6,5.9,-7.2,6.4,-5.8,7.3,-6.9,5.6,-7.5,6.8,-6.2,7.6,-5.4,6.0,-6.7,5.5,-5.9,6.9,-7.0,5.8,-6.3,7.2,-5.7,6.5,-7.4,6.1,-6.5,7.7,-6.0,5.9,-7.1,6.7,-5.3];

const revisedSeries = [
  l1, l2, l3, l4, l5, l6, l7, l8, l9,
  w1, w2, w3,
  s1, s2, s3, d1,
  c1, c2, c3, c4, c5, c6, c7, c8, c9, c10, c11, c12, c13, c14, c15, c16, c17, c18, c19,
];

// Tick values
const xTicks = [0, 20, 40, 60, 80, 100];
const naiveYTickLabels = [-2.5, -2.0, -1.5, -1.0, -0.5, 0.0, 0.5, 1.0]; // multiples of 1e38
const revisedYTicks = [-15, -10, -5, 0, 5, 10, 15];

// ---------------- LAYOUT ----------------
const W = 2668;
const H = 940;
const TOP = 58;
const BOTTOM = 839;
const LEFT_BOX = { x0: 138, x1: 1324 };
const RIGHT_BOX = { x0: 1465, x1: 2648 };
const FONT = "'DejaVu Sans', 'Liberation Sans', sans-serif";
const TICK_FS = 26.4;
const TITLE_FS = 31.7;
const TICK_LEN = 9.2;
const SPINE_W = 2.1;

const minus = (s: string) => s.replace('-', '\u2212');

function padDomain(ext: [number, number]): [number, number] {
  const r = ext[1] - ext[0];
  return [ext[0] - 0.05 * r, ext[1] + 0.05 * r];
}

type Tick = { value: number; label: string };

type AxesProps = {
  id: string;
  box: { x0: number; x1: number };
  xs: d3.ScaleLinear<number, number>;
  ys: d3.ScaleLinear<number, number>;
  yTicks: Tick[];
  title: string;
  ylabelX: number;
  offsetText?: string;
  children: React.ReactNode;
};

function Axes({ id, box, xs, ys, yTicks, title, ylabelX, offsetText, children }: AxesProps) {
  const cx = (box.x0 + box.x1) / 2;
  const cy = (TOP + BOTTOM) / 2;
  return (
    <g>
      <defs>
        <clipPath id={id}>
          <rect x={box.x0} y={TOP} width={box.x1 - box.x0} height={BOTTOM - TOP} />
        </clipPath>
      </defs>
      <g clipPath={`url(#${id})`}>{children}</g>
      <rect x={box.x0} y={TOP} width={box.x1 - box.x0} height={BOTTOM - TOP} fill="none" stroke="#000" strokeWidth={SPINE_W} />
      {xTicks.map((t) => (
        <g key={`x${t}`}>
          <line x1={xs(t)} x2={xs(t)} y1={BOTTOM} y2={BOTTOM + TICK_LEN} stroke="#000" strokeWidth={SPINE_W} />
          <text x={xs(t)} y={879.3} textAnchor="middle" fontFamily={FONT} fontSize={TICK_FS} fill="#000">
            {String(t)}
          </text>
        </g>
      ))}
      {yTicks.map((t) => (
        <g key={`y${t.label}`}>
          <line x1={box.x0 - TICK_LEN} x2={box.x0} y1={ys(t.value)} y2={ys(t.value)} stroke="#000" strokeWidth={SPINE_W} />
          <text x={box.x0 - 18.4} y={ys(t.value) + 0.364 * TICK_FS} textAnchor="end" fontFamily={FONT} fontSize={TICK_FS} fill="#000">
            {t.label}
          </text>
        </g>
      ))}
      <text x={cx} y={42.5} textAnchor="middle" fontFamily={FONT} fontSize={TITLE_FS} fill="#000">
        {title}
      </text>
      <text x={cx} y={916} textAnchor="middle" fontFamily={FONT} fontSize={TICK_FS} fill="#000">
        Time step
      </text>
      <text
        x={ylabelX}
        y={cy}
        transform={`rotate(-90 ${ylabelX} ${cy})`}
        textAnchor="middle"
        fontFamily={FONT}
        fontSize={TICK_FS}
        fill="#000"
      >
        y
      </text>
      {offsetText && (
        <text x={box.x0} y={50} textAnchor="start" fontFamily={FONT} fontSize={TICK_FS} fill="#000">
          {offsetText}
        </text>
      )}
    </g>
  );
}

export default function App() {
  const xDom = padDomain(d3.extent(timeSteps) as [number, number]);
  const xL = d3.scaleLinear().domain(xDom).range([LEFT_BOX.x0, LEFT_BOX.x1]);
  const xR = d3.scaleLinear().domain(xDom).range([RIGHT_BOX.x0, RIGHT_BOX.x1]);

  const naiveVals = [...naiveFlat, ...naiveBurst].filter((v) => Number.isFinite(v));
  const yL = d3.scaleLinear().domain(padDomain(d3.extent(naiveVals) as [number, number])).range([BOTTOM, TOP]);
  const revVals = revisedSeries.flat();
  const yR = d3.scaleLinear().domain(padDomain(d3.extent(revVals) as [number, number])).range([BOTTOM, TOP]);

  const lineL = d3
    .line<number>()
    .defined((v) => Number.isFinite(v))
    .x((_, i) => xL(timeSteps[i]))
    .y((v) => yL(v));
  const lineR = d3
    .line<number>()
    .x((_, i) => xR(timeSteps[i]))
    .y((v) => yR(v));

  const naiveTicks: Tick[] = naiveYTickLabels.map((m) => ({ value: m * naiveOffset, label: minus(m.toFixed(1)) }));
  const revisedTicks: Tick[] = revisedYTicks.map((v) => ({ value: v, label: minus(String(v)) }));

  return (
    <svg
      width={W}
      height={H}
      viewBox={`0 0 ${W} ${H}`}
      style={{ position: 'absolute', left: 0, top: 0, background: '#fff', display: 'block' }}
    >
      <rect x={0} y={0} width={W} height={H} fill="#fff" />
      <Axes
        id="clipNaive"
        box={LEFT_BOX}
        xs={xL}
        ys={yL}
        yTicks={naiveTicks}
        title="Naive priors"
        ylabelX={39}
        offsetText="1e38"
      >
        <path d={lineL(naiveBurst) || ''} fill="none" stroke="#4682b4" strokeOpacity={0.15} strokeWidth={4} strokeLinejoin="round" />
        <path d={lineL(naiveFlat) || ''} fill="none" stroke="#4682b4" strokeWidth={4} strokeLinejoin="round" />
      </Axes>
      <Axes
        id="clipRevised"
        box={RIGHT_BOX}
        xs={xR}
        ys={yR}
        yTicks={revisedTicks}
        title="Revised priors"
        ylabelX={1373}
      >
        {revisedSeries.map((s, i) => (
          <path key={i} d={lineR(s) || ''} fill="none" stroke="#ff7f50" strokeOpacity={0.2} strokeWidth={4} strokeLinejoin="round" />
        ))}
      </Axes>
    </svg>
  );
}
